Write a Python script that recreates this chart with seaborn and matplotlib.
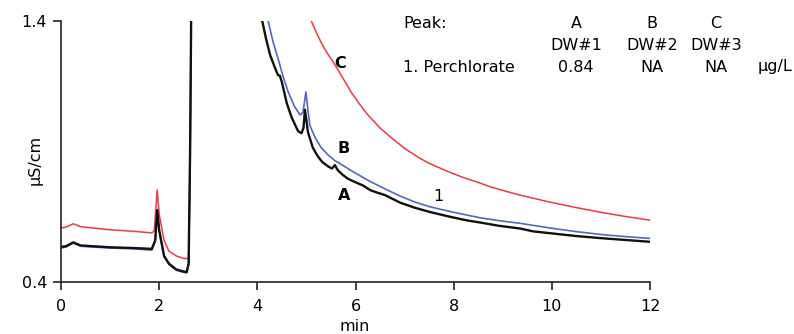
import matplotlib
matplotlib.use("Agg")
import matplotlib.pyplot as plt
import seaborn as sns
import pandas as pd

# ---- data ----
t_black = [0.0, 0.1, 0.25, 0.4, 1.0, 1.5, 1.85, 1.92, 1.96, 2.0, 2.1, 2.2, 2.35, 2.5, 2.56,
           2.6, 2.63, 2.66, 2.75, 3.5, 4.0, 4.1, 4.18, 4.26, 4.35, 4.42, 4.46, 4.5, 4.6, 4.7,
           4.83, 4.9, 4.94, 4.97, 5.0, 5.03, 5.13, 5.22, 5.32, 5.45, 5.52, 5.58, 5.64, 5.73,
           5.85, 5.99, 6.15, 6.3, 6.45, 6.6, 6.91, 7.2, 7.52, 7.9, 8.27, 8.54, 8.9, 9.35,
           9.62, 9.96, 10.5, 11.0, 11.5, 12.0]
v_black = [0.535, 0.537, 0.552, 0.540, 0.533, 0.530, 0.527, 0.560, 0.676, 0.600, 0.500, 0.470,
           0.448, 0.440, 0.438, 0.470, 0.900, 1.600, 2.500, 1.900, 1.460, 1.400, 1.330, 1.270,
           1.225, 1.193, 1.190, 1.166, 1.085, 1.030, 0.978, 0.970, 0.990, 1.060, 1.020, 0.975,
           0.915, 0.885, 0.860, 0.842, 0.835, 0.848, 0.828, 0.812, 0.795, 0.783, 0.770, 0.752,
           0.742, 0.733, 0.704, 0.685, 0.668, 0.651, 0.636, 0.628, 0.616, 0.605, 0.594, 0.587,
           0.576, 0.568, 0.561, 0.554]

t_blue = [0.0, 0.1, 0.25, 0.4, 1.0, 1.5, 1.85, 1.92, 1.96, 2.0, 2.1, 2.2, 2.35, 2.5, 2.56,
          2.6, 2.63, 2.66, 2.75, 3.5, 4.1, 4.22, 4.32, 4.42, 4.52, 4.63, 4.75, 4.87, 4.93,
          4.99, 5.03, 5.07, 5.18, 5.3, 5.44, 5.58, 5.73, 5.99, 6.3, 6.6, 6.91, 7.2, 7.52,
          8.0, 8.54, 9.0, 9.35, 9.96, 10.5, 11.0, 11.5, 12.0]
v_blue = [0.530, 0.534, 0.549, 0.537, 0.530, 0.527, 0.522, 0.555, 0.670, 0.595, 0.497, 0.467,
          0.445, 0.437, 0.435, 0.465, 0.880, 1.600, 2.500, 2.000, 1.480, 1.400, 1.320, 1.258,
          1.190, 1.128, 1.075, 1.040, 1.050, 1.128, 1.060, 1.000, 0.952, 0.915, 0.887, 0.865,
          0.848, 0.818, 0.785, 0.757, 0.729, 0.707, 0.688, 0.667, 0.646, 0.633, 0.625, 0.607,
          0.593, 0.582, 0.574, 0.567]

t_red = [0.0, 0.1, 0.25, 0.4, 1.0, 1.5, 1.85, 1.9, 1.96, 2.0, 2.1, 2.2, 2.35, 2.5, 2.6,
         2.63, 2.66, 2.8, 4.0, 5.0, 5.1, 5.2, 5.32, 5.43, 5.54, 5.7, 5.91, 6.05, 6.23, 6.5,
         6.76, 7.0, 7.31, 7.52, 7.9, 8.2, 8.54, 8.74, 9.15, 9.35, 9.96, 10.5, 11.0, 11.5, 12.0]
v_red = [0.607, 0.610, 0.623, 0.612, 0.600, 0.594, 0.588, 0.595, 0.752, 0.660, 0.560, 0.518,
         0.500, 0.490, 0.490, 0.800, 1.600, 2.600, 1.800, 1.430, 1.400, 1.357, 1.310, 1.275,
         1.245, 1.195, 1.128, 1.090, 1.045, 0.990, 0.948, 0.912, 0.874, 0.853, 0.822, 0.800,
         0.779, 0.765, 0.743, 0.733, 0.706, 0.685, 0.667, 0.651, 0.637]

trace_labels = ["A", "B", "C"]
label_pos_t = [5.77, 5.75, 5.68]
label_pos_v = [0.733, 0.913, 1.239]

table_header = ["A", "B", "C"]
table_samples = ["DW#1", "DW#2", "DW#3"]
table_values = ["0.84", "NA", "NA"]

# ---- plot ----
sns.set_style("ticks")
plt.rcParams["font.family"] = ["DejaVu Sans"]
plt.rcParams["text.color"] = "black"
plt.rcParams["axes.labelcolor"] = "black"

W, H = 794, 334
fig = plt.figure(figsize=(W / 100, H / 100), dpi=100)
ax = fig.add_axes([61 / W, 1 - 282 / H, (650 - 61) / W, (282 - 21) / H])

df_r = pd.DataFrame({"t": t_red, "v": v_red})
df_b = pd.DataFrame({"t": t_blue, "v": v_blue})
df_k = pd.DataFrame({"t": t_black, "v": v_black})
sns.lineplot(data=df_r, x="t", y="v", ax=ax, color="#ee3a3f", linewidth=1.1, sort=False, estimator=None)
sns.lineplot(data=df_b, x="t", y="v", ax=ax, color="#5068bd", linewidth=1.2, sort=False, estimator=None)
sns.lineplot(data=df_k, x="t", y="v", ax=ax, color="#111111", linewidth=1.7, sort=False, estimator=None)

ax.set_xlim(0, 12)
ax.set_ylim(0.4, 1.4)
ax.set_xticks([0, 2, 4, 6, 8, 10, 12])
ax.set_yticks([0.4, 1.4])
ax.set_yticklabels(["0.4", "1.4"])
ax.tick_params(axis="both", direction="out", length=6, width=1.2, colors="#222222",
               labelsize=11.5, labelcolor="black")
ax.tick_params(axis="x", pad=6)
ax.tick_params(axis="y", pad=4)
for side in ["top", "right"]:
    ax.spines[side].set_visible(False)
for side in ["left", "bottom"]:
    ax.spines[side].set_linewidth(1.2)
    ax.spines[side].set_color("#222222")

ax.set_xlabel("min", fontsize=11.5, color="black")
ax.set_ylabel("µS/cm", fontsize=11.5, color="black")
ax.xaxis.set_label_coords(0.499, -0.14)
ax.yaxis.set_label_coords(-0.031, 0.467)

for lab, tx, vy in zip(trace_labels, label_pos_t, label_pos_v):
    ax.text(tx, vy, lab, fontsize=11.5, fontweight="bold", ha="center", va="center", color="black")
ax.text(7.68, 0.726, "1", fontsize=11.5, ha="center", va="center", color="black")

def ftext(px, py, s, ha="left"):
    fig.text(px / W, 1 - py / H, s, fontsize=11.5, ha=ha, va="center", color="black")

ftext(403, 24, "Peak:")
ftext(403, 67, "1. Perchlorate")
for cx, h, smp, val in zip([576, 652, 716], table_header, table_samples, table_values):
    ftext(cx, 24, h, ha="center")
    ftext(cx, 45, smp, ha="center")
    ftext(cx, 67, val, ha="center")
ftext(792, 67, "µg/L", ha="right")

fig.savefig("out.png", dpi=100)
